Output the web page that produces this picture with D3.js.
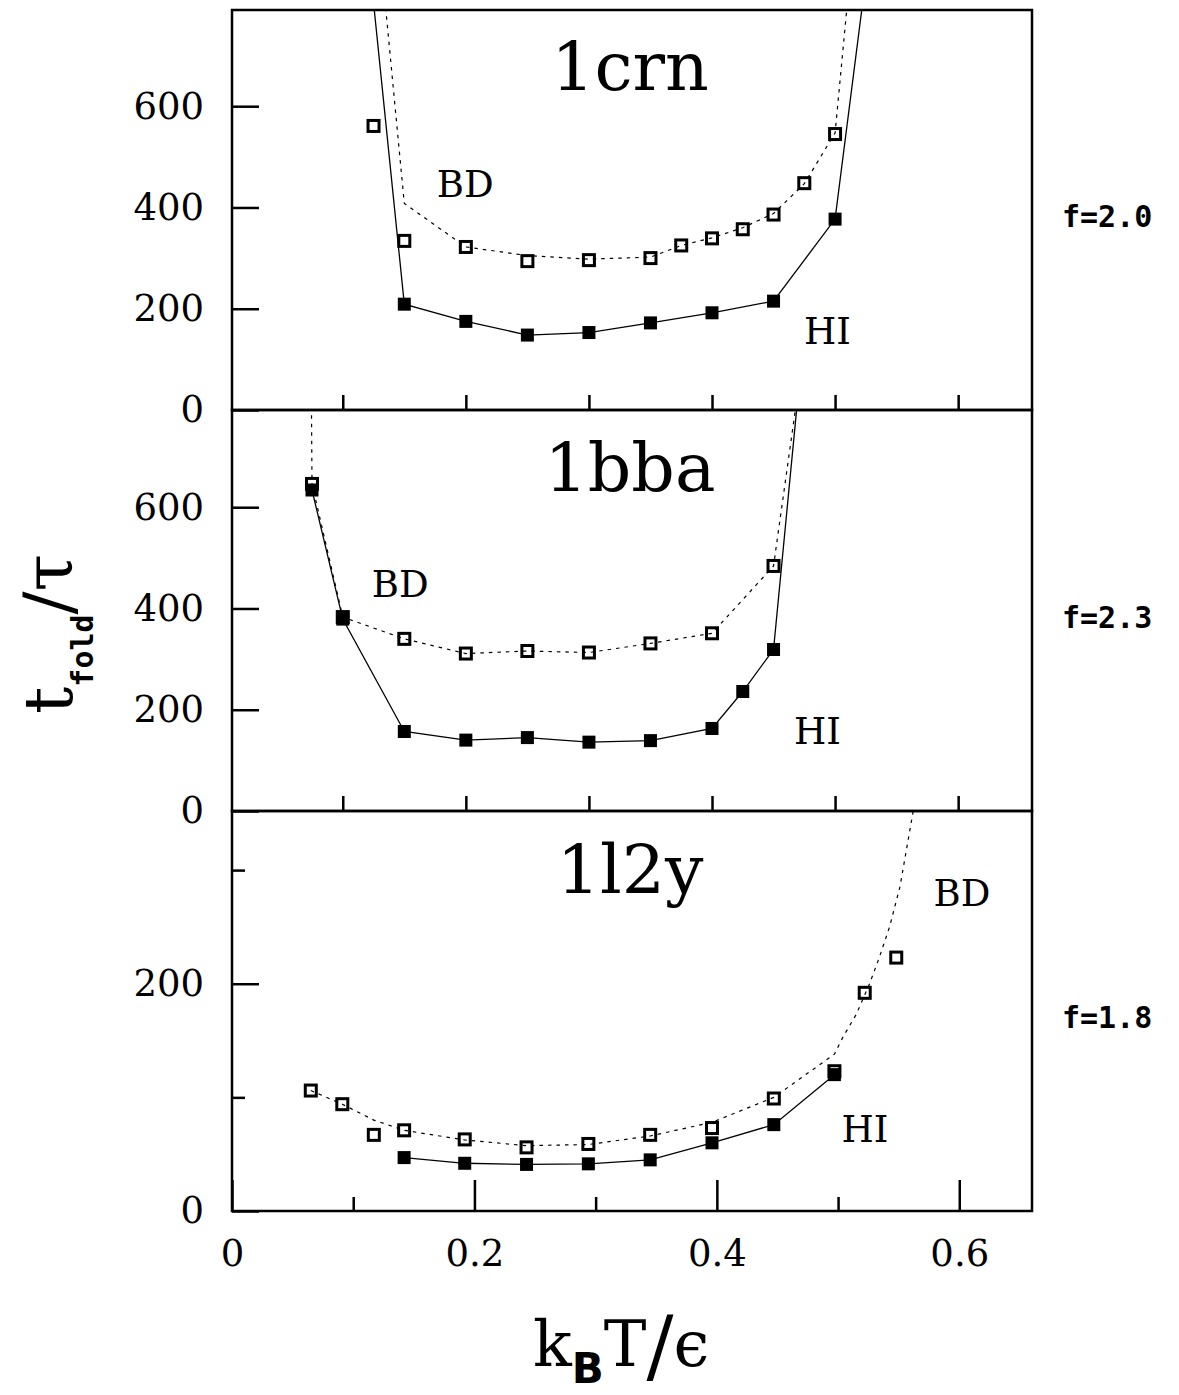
<!DOCTYPE html>
<html>
<head>
<meta charset="utf-8">
<script src="https://cdn.jsdelivr.net/npm/d3@7"></script>
<style>
  body { margin: 0; background: #fff; }
</style>
</head>
<body>
<div class="fold-graph"></div>
<script>
"use strict";

// 1crn (f=2.0): HI = filled squares, BD = open squares, dotted = BD curve
const crnHiT = [0.15, 0.2, 0.25, 0.3, 0.35, 0.4, 0.45, 0.5];
const crnHi = [209, 175, 148, 153, 172, 192, 215, 377];
const crnHiLineT = [0.1, 0.15, 0.2, 0.25, 0.3, 0.35, 0.4, 0.45, 0.5, 0.55];
const crnHiLine = [1400, 209, 175, 148, 153, 172, 192, 215, 377, 1330];
const crnBdT = [0.125, 0.15, 0.2, 0.25, 0.3, 0.35, 0.375, 0.4, 0.425, 0.45, 0.475, 0.5];
const crnBd = [561, 334, 322, 294, 296, 300, 325, 339, 357, 386, 448, 545];
const crnBdLineT = [0.125, 0.15, 0.2, 0.25, 0.3, 0.35, 0.375, 0.4, 0.425, 0.45, 0.475, 0.5, 0.525];
const crnBdLine = [1045, 408, 322, 305, 298, 302, 325, 340, 360, 388, 447, 547, 1190];

// 1bba (f=2.3)
const bbaHiT = [0.075, 0.1, 0.15, 0.2, 0.25, 0.3, 0.35, 0.4, 0.425, 0.45];
const bbaHi = [634, 379, 157, 140, 145, 136, 139, 163, 236, 319];
const bbaHiLineT = [0.075, 0.1, 0.15, 0.2, 0.25, 0.3, 0.35, 0.4, 0.425, 0.45, 0.475];
const bbaHiLine = [634, 379, 157, 140, 145, 136, 139, 163, 236, 319, 950];
const bbaBdT = [0.075, 0.1, 0.15, 0.2, 0.25, 0.3, 0.35, 0.4, 0.45];
const bbaBd = [646, 383, 340, 311, 316, 313, 331, 351, 484];
const bbaBdLineT = [0.074, 0.075, 0.1, 0.15, 0.2, 0.25, 0.3, 0.35, 0.4, 0.45, 0.475];
const bbaBdLine = [1000, 646, 383, 340, 311, 316, 313, 331, 351, 484, 919];

// 1l2y (f=1.8), read against its own temperature axis
const l2yHiT = [0.142, 0.192, 0.243, 0.294, 0.345, 0.396, 0.447, 0.497];
const l2yHi = [47, 42, 41, 41.5, 45, 60, 76, 120];
const l2yBdT = [0.065, 0.091, 0.117, 0.142, 0.192, 0.243, 0.294, 0.345, 0.396, 0.447, 0.497, 0.522, 0.548];
const l2yBd = [106, 94, 67, 71, 63, 56, 59, 67, 73, 99, 123, 192, 223];
const l2yBdLineT = [0.065, 0.091, 0.117, 0.142, 0.192, 0.243, 0.294, 0.345, 0.396, 0.447, 0.497, 0.504, 0.515, 0.526, 0.534, 0.5425, 0.551, 0.562, 0.575];
const l2yBdLine = [106, 94, 80, 71, 62.5, 57.5, 58.5, 66, 78, 100, 138, 153, 173, 200, 223, 250, 285, 352, 450];

// axis ticks
const bigYTicks = [0, 200, 400, 600];
const smallYTicks = [0, 200];
const smallYMinor = [100, 300];
const innerXTicks = [0.1, 0.2, 0.3, 0.4, 0.5, 0.6];
const xMajor = [0, 0.2, 0.4, 0.6];
const xMinor = [0.1, 0.3, 0.5];

const width = 1179;
const height = 1395;
const left = 232;
const right = 1032;
const serif = "DejaVu Serif";

const svg = d3
  .select(".fold-graph")
  .append("svg")
  .attr("width", width)
  .attr("height", height)
  .style("background", "#fff");

const panels = [
  {
    id: "crn", name: "1crn", f: "f=2.0", top: 10, bottom: 410,
    xDomain: [0.01, 0.66], yMax: 790, yTicks: bigYTicks, yMinor: [],
    hi: d3.zip(crnHiT, crnHi), hiLine: d3.zip(crnHiLineT, crnHiLine),
    bd: d3.zip(crnBdT, crnBd), bdLine: d3.zip(crnBdLineT, crnBdLine),
    bdLabel: [0.1764, 420], hiLabel: [0.4748, 130], titleBase: 90
  },
  {
    id: "bba", name: "1bba", f: "f=2.3", top: 410, bottom: 811,
    xDomain: [0.01, 0.66], yMax: 792, yTicks: bigYTicks, yMinor: [],
    hi: d3.zip(bbaHiT, bbaHi), hiLine: d3.zip(bbaHiLineT, bbaHiLine),
    bd: d3.zip(bbaBdT, bbaBd), bdLine: d3.zip(bbaBdLineT, bbaBdLine),
    bdLabel: [0.1236, 422], hiLabel: [0.4667, 132], titleBase: 491
  },
  {
    id: "l2y", name: "1l2y", f: "f=1.8", top: 811, bottom: 1211,
    xDomain: [0, 0.66], yMax: 352, yTicks: smallYTicks, yMinor: smallYMinor,
    hi: d3.zip(l2yHiT, l2yHi), hiLine: d3.zip(l2yHiT, l2yHi),
    bd: d3.zip(l2yBdT, l2yBd), bdLine: d3.zip(l2yBdLineT, l2yBdLine),
    bdLabel: [0.5787, 268], hiLabel: [0.5029, 61], titleBase: 893
  }
];

function styleAxis(g, size) {
  g.select(".domain").remove();
  g.selectAll("line").attr("stroke", "#000").attr("stroke-width", 2.5);
  g.attr("font-family", serif).attr("font-size", size);
  g.selectAll("text").attr("fill", "#000");
}

panels.forEach((p, i) => {
  const x = d3.scaleLinear().domain(p.xDomain).range([left, right]);
  const y = d3.scaleLinear().domain([0, p.yMax]).range([p.bottom, p.top]);
  const g = svg.append("g").attr("class", "panel-" + p.id);

  g.append("clipPath")
    .attr("id", "clip-" + p.id)
    .append("rect")
    .attr("x", left)
    .attr("y", p.top)
    .attr("width", right - left)
    .attr("height", p.bottom - p.top);

  const line = d3
    .line()
    .x((d) => x(d[0]))
    .y((d) => y(d[1]));

  // BD curve (dotted)
  g.append("path")
    .datum(p.bdLine)
    .attr("clip-path", `url(#clip-${p.id})`)
    .attr("fill", "none")
    .attr("stroke", "#000")
    .attr("stroke-width", 1.2)
    .attr("stroke-dasharray", "3.5,5")
    .attr("d", line);

  // HI curve (solid)
  g.append("path")
    .datum(p.hiLine)
    .attr("clip-path", `url(#clip-${p.id})`)
    .attr("fill", "none")
    .attr("stroke", "#000")
    .attr("stroke-width", 1.3)
    .attr("d", line);

  g.selectAll(".bd-point")
    .data(p.bd)
    .join("rect")
    .attr("class", "bd-point")
    .attr("x", (d) => x(d[0]) - 5.5)
    .attr("y", (d) => y(d[1]) - 5.5)
    .attr("width", 11)
    .attr("height", 11)
    .attr("fill", "none")
    .attr("stroke", "#000")
    .attr("stroke-width", 3);

  g.selectAll(".hi-point")
    .data(p.hi)
    .join("rect")
    .attr("class", "hi-point")
    .attr("x", (d) => x(d[0]) - 6.5)
    .attr("y", (d) => y(d[1]) - 6.5)
    .attr("width", 13)
    .attr("height", 13)
    .attr("fill", "#000");

  // y axis
  const yAxis = d3
    .axisLeft(y)
    .tickValues(p.yTicks)
    .tickSize(-27)
    .tickPadding(28)
    .tickFormat(d3.format("d"));
  g.append("g")
    .attr("class", "axis y-axis")
    .attr("transform", `translate(${left},0)`)
    .call(yAxis)
    .call((a) => styleAxis(a, 37));

  if (p.yMinor.length) {
    g.append("g")
      .attr("class", "axis y-minor")
      .attr("transform", `translate(${left},0)`)
      .call(d3.axisLeft(y).tickValues(p.yMinor).tickSize(-13).tickFormat(""))
      .call((a) => styleAxis(a, 37));
  }

  // x ticks
  if (i < 2) {
    g.append("g")
      .attr("class", "axis x-axis")
      .attr("transform", `translate(0,${p.bottom})`)
      .call(d3.axisBottom(x).tickValues(innerXTicks).tickSize(-15).tickFormat(""))
      .call((a) => styleAxis(a, 37));
  } else {
    g.append("g")
      .attr("class", "axis x-axis")
      .attr("transform", `translate(0,${p.bottom})`)
      .call(
        d3.axisBottom(x)
          .tickValues(xMajor)
          .tickSize(-31)
          .tickPadding(29)
          .tickFormat((d) => (d === 0 ? "0" : d3.format(".1f")(d)))
      )
      .call((a) => styleAxis(a, 37));
    g.append("g")
      .attr("class", "axis x-minor")
      .attr("transform", `translate(0,${p.bottom})`)
      .call(d3.axisBottom(x).tickValues(xMinor).tickSize(-14).tickFormat(""))
      .call((a) => styleAxis(a, 37));
  }

  // frame
  g.append("rect")
    .attr("x", left)
    .attr("y", p.top)
    .attr("width", right - left)
    .attr("height", p.bottom - p.top)
    .attr("fill", "none")
    .attr("stroke", "#000")
    .attr("stroke-width", 2.5);

  g.append("text")
    .attr("x", (left + right) / 2 - 2)
    .attr("y", p.titleBase)
    .attr("text-anchor", "middle")
    .attr("font-family", serif)
    .attr("font-size", 68)
    .text(p.name);

  g.append("text")
    .attr("x", x(p.bdLabel[0]))
    .attr("y", y(p.bdLabel[1]))
    .attr("font-family", serif)
    .attr("font-size", 37)
    .text("BD");

  g.append("text")
    .attr("x", x(p.hiLabel[0]))
    .attr("y", y(p.hiLabel[1]))
    .attr("font-family", serif)
    .attr("font-size", 37)
    .text("HI");

  g.append("text")
    .attr("x", 1062)
    .attr("y", (p.top + p.bottom) / 2 + 17)
    .attr("font-family", "DejaVu Sans Mono")
    .attr("font-weight", "bold")
    .attr("font-size", 30)
    .text(p.f);
});

// axis titles
const xTitle = svg
  .append("text")
  .attr("x", 533)
  .attr("y", 1366)
  .attr("font-family", serif)
  .attr("font-size", 64);
xTitle.append("tspan").text("k");
xTitle
  .append("tspan")
  .attr("font-family", "DejaVu Sans")
  .attr("font-weight", "bold")
  .attr("font-size", 42)
  .attr("dy", 17)
  .text("B");
xTitle.append("tspan").attr("dy", -17).text("T");
xTitle.append("tspan").attr("font-size", 80).attr("dy", 8).text("/");
xTitle.append("tspan").attr("dy", -8).text("ϵ");

const yTitle = svg
  .append("text")
  .attr("transform", "translate(72,714) rotate(-90)")
  .attr("font-family", serif)
  .attr("font-size", 68);
yTitle.append("tspan").text("t");
yTitle
  .append("tspan")
  .attr("font-family", "DejaVu Sans Mono")
  .attr("font-weight", "bold")
  .attr("font-size", 30)
  .attr("dy", 21)
  .text("fold");
yTitle.append("tspan").attr("dy", -21).text("/τ");
</script>
</body>
</html>
